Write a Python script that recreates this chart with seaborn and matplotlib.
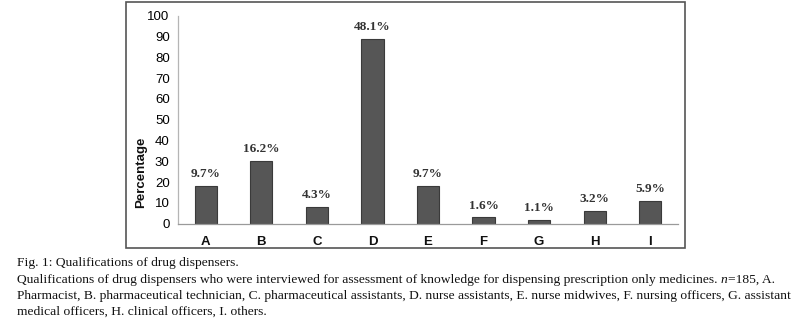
import matplotlib
matplotlib.use("Agg")
import matplotlib.pyplot as plt
from matplotlib.patches import Rectangle
import seaborn as sns
import pandas as pd

# ---- data ----
categories = ["A", "B", "C", "D", "E", "F", "G", "H", "I"]
counts = [18, 30, 8, 89, 18, 3, 2, 6, 11]
pct_labels = ["9.7%", "16.2%", "4.3%", "48.1%", "9.7%", "1.6%", "1.1%", "3.2%", "5.9%"]
y_ticks = [0, 10, 20, 30, 40, 50, 60, 70, 80, 90, 100]
y_label = "Percentage"
caption_title = "Fig. 1: Qualifications of drug dispensers."
caption_l1a = ("Qualifications of drug dispensers who were interviewed for assessment of "
               "knowledge for dispensing prescription only medicines. ")
caption_l1b = "n"
caption_l1c = "=185, A."
caption_l2 = ("Pharmacist, B. pharmaceutical technician, C. pharmaceutical assistants, "
              "D. nurse assistants, E. nurse midwives, F. nursing officers, G. assistant")
caption_l3 = "medical officers, H. clinical officers, I. others."

sns.set_theme(style="white")
plt.rcParams["font.family"] = ["Liberation Sans", "DejaVu Sans"]

df = pd.DataFrame({"cat": categories, "val": counts})

W, H = 800, 322
fig = plt.figure(figsize=(W / 100, H / 100), dpi=100)
fig.patch.set_facecolor("white")

# outer chart frame
fig.add_artist(Rectangle((126 / W, 1 - 248 / H), (685 - 126) / W, (248 - 2) / H,
                         transform=fig.transFigure, fill=False,
                         edgecolor="#555555", linewidth=1.2))

ax = fig.add_axes([178 / W, 1 - 223.7 / H, 500 / W, (223.7 - 15.7) / H])
sns.barplot(data=df, x="cat", y="val", ax=ax, color="#565656", width=0.4,
            edgecolor="#3a3a3a", linewidth=0.8, saturation=1)

ax.set_xlim(-0.5, len(categories) - 0.5)
ax.set_ylim(0, 100)
ax.set_yticks(y_ticks)
ax.set_xlabel("")
ax.set_ylabel(y_label, fontsize=9.5, fontweight="bold", color="#111111")
ax.yaxis.set_label_coords((147 - 178) / 500, (223.7 - 172.5) / 208)

for s in ["top", "right"]:
    ax.spines[s].set_visible(False)
ax.spines["left"].set_color("#b5b5b5")
ax.spines["bottom"].set_color("#9a9a9a")
for s in ["left", "bottom"]:
    ax.spines[s].set_linewidth(0.9)

ax.tick_params(axis="y", direction="out", length=4, width=0.8, color="#b5b5b5",
               labelsize=9.5, pad=2, labelcolor="#000000")
ax.tick_params(axis="x", which="major", length=0, labelsize=9.5, pad=9,
               labelcolor="#111111")
ax.set_xticks([i - 0.5 for i in range(len(categories) + 1)], minor=True)
ax.tick_params(axis="x", which="minor", direction="out", length=3.5, width=0.8,
               color="#9a9a9a")
for lab in ax.get_xticklabels():
    lab.set_fontweight("bold")

for i, (v, t) in enumerate(zip(counts, pct_labels)):
    ax.annotate(t, (i, v), xytext=(0, 8.5), textcoords="offset points",
                ha="center", va="center", fontsize=9.5, fontweight="bold",
                color="#333333", family=["Liberation Serif", "DejaVu Serif"])

# caption
serif = ["Liberation Serif", "DejaVu Serif"]
fig.canvas.draw()
r = fig.canvas.get_renderer()


def fit_size(s, target, base=10.0):
    p = fig.text(0, 0, s, fontsize=base, family=serif)
    w = p.get_window_extent(r).width
    p.remove()
    return base * target / w


fs = min(fit_size(caption_l1a + caption_l1b + caption_l1c, 768),
         fit_size(caption_l2, 768))

x0 = 17 / W
ys = [263, 280, 296, 312]
kw = dict(family=serif, va="center", color="#111111", fontsize=fs)
fig.text(x0, 1 - ys[0] / H, caption_title, **kw)
t1 = fig.text(x0, 1 - ys[1] / H, caption_l1a, **kw)
e1 = t1.get_window_extent(r)
t2 = fig.text(e1.x1 / W, 1 - ys[1] / H, caption_l1b, style="italic", **kw)
e2 = t2.get_window_extent(r)
fig.text(e2.x1 / W, 1 - ys[1] / H, caption_l1c, **kw)
fig.text(x0, 1 - ys[2] / H, caption_l2, **kw)
fig.text(x0, 1 - ys[3] / H, caption_l3, **kw)

fig.savefig("out.png", dpi=100, facecolor="white")
